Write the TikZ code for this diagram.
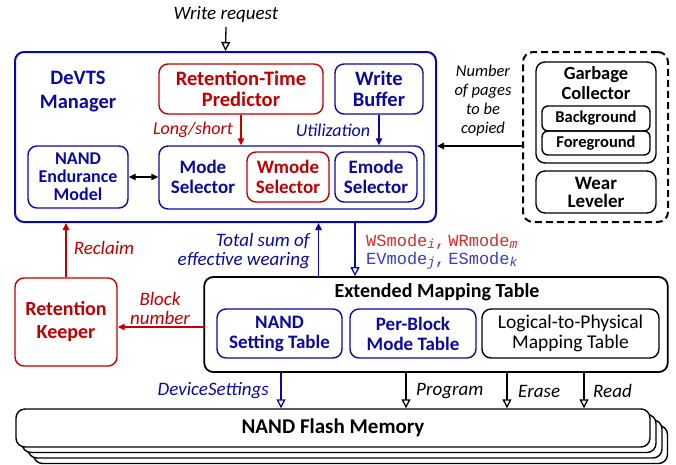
\documentclass[tikz,border=0pt]{standalone}
\usepackage{fontspec}
\setmainfont{Carlito}
\newfontfamily\monof{Liberation Mono}
\usetikzlibrary{arrows.meta}
\definecolor{nblue}{RGB}{10,10,160}
\definecolor{nred}{RGB}{192,0,0}
\definecolor{mred}{RGB}{215,45,45}
\definecolor{mblue}{RGB}{60,60,200}
\newcommand{\subi}[1]{\raisebox{-2pt}{\fontsize{13}{13}\selectfont\itshape #1}}
\begin{document}
\begin{tikzpicture}[x=1pt,y=-1pt,
  box/.style={draw, rounded corners=9pt, line width=1.4pt, align=center, inner sep=0pt,
    font=\fontsize{19}{20}\selectfont\bfseries},
  bbox/.style={box, draw=nblue, text=nblue},
  rbox/.style={box, draw=nred, text=nred},
  kbox/.style={box, draw=black, text=black},
  big/.style={font=\fontsize{20.5}{20.5}\selectfont\bfseries},
  txt/.style={align=center, inner sep=0pt, font=\fontsize{19}{20}\selectfont\bfseries},
  lab/.style={align=center, inner sep=0pt, font=\fontsize{19}{19}\selectfont\itshape},
  fa/.style={-{Triangle[length=7pt,width=6.5pt]}, line width=1.3pt},
  oa/.style={-{Triangle[open,length=9pt,width=9pt]}, line width=1.3pt},
  da/.style={{Triangle[length=7pt,width=6.5pt]}-{Triangle[length=7pt,width=6.5pt]}, line width=1.3pt}
]
\useasboundingbox (0,0) rectangle (676,464);

% DeVTS manager
\node[bbox, line width=2pt, minimum width=421pt, minimum height=170pt] (dev) at (225.5,137) {};
\node[txt, text=nblue, font=\fontsize{20.5}{24}\selectfont\bfseries] (devt) at (78,92) {DeVTS\\Manager};
\node[rbox, big, minimum width=164pt, minimum height=50pt] (rtp) at (241,89) {Retention-Time\\Predictor};
\node[bbox, big, minimum width=88pt, minimum height=50pt] (wb) at (379,89) {Write\\Buffer};
\node[bbox, minimum width=100pt, minimum height=62pt, font=\fontsize{18}{18}\selectfont\bfseries] (nem) at (78,177) {NAND\\Endurance\\Model};
\node[bbox, minimum width=265pt, minimum height=63pt] (ms) at (291.5,177.5) {};
\node[txt, text=nblue] (mst) at (203,177) {Mode\\Selector};
\node[rbox, minimum width=82pt, minimum height=50pt] (wms) at (288,177) {Wmode\\Selector};
\node[bbox, minimum width=82pt, minimum height=50pt] (ems) at (376,177) {Emode\\Selector};

% write request
\node[lab] (wr) at (226,14) {Write request};
\coordinate (wrs) at (226,27);
\draw[oa] (wrs) -- (dev.north);

% internal arrows
\draw[fa, nred] (rtp.south) -- (rtp.south |- ms.north);
\draw[fa, nblue] (wb.south) -- (wb.south |- ms.north);
\node[lab, text=nred, font=\fontsize{18}{18}\selectfont\itshape] (ls) at (193,130) {Long/short};
\node[lab, text=nblue, font=\fontsize{18}{18}\selectfont\itshape] (ut) at (333,130) {Utilization};
\draw[da] (nem.east) -- (nem.east -| ms.west);

% dashed group
\node[draw, dash pattern=on 7pt off 4pt, line width=2pt, rounded corners=10pt,
  minimum width=145pt, minimum height=170pt] (dash) at (595.5,137) {};
\node[kbox, minimum width=120pt, minimum height=101pt] (gc) at (596,112.5) {};
\node[txt, font=\fontsize{18.5}{20}\selectfont\bfseries] (gct) at (596,83) {Garbage\\Collector};
\node[kbox, rounded corners=6pt, minimum width=108pt, minimum height=25pt,
  font=\fontsize{16.5}{18}\selectfont\bfseries] (bg) at (596,118.5) {Background};
\node[kbox, rounded corners=6pt, minimum width=108pt, minimum height=24pt,
  font=\fontsize{16.5}{18}\selectfont\bfseries] (fg) at (596,143) {Foreground};
\node[kbox, minimum width=120pt, minimum height=42pt, font=\fontsize{19}{18}\selectfont\bfseries] (wl) at (596,192) {Wear\\Leveler};
\coordinate (dashl) at (523,146);
\draw[fa] (dashl) -- (dashl -| dev.east);
\node[lab, font=\fontsize{16.5}{19}\selectfont\itshape] (np) at (483,101) {Number\\of pages\\to be\\copied};

% retention keeper
\node[rbox, minimum width=102pt, minimum height=88pt, font=\fontsize{20}{23}\selectfont\bfseries] (rk) at (66,322) {Retention\\Keeper};
\draw[fa, nred] (rk.north) -- (rk.north |- dev.south);
\node[lab, text=nred] (rc) at (104,248) {Reclaim};

% extended mapping table
\node[kbox, line width=1.8pt, minimum width=463.5pt, minimum height=95pt] (emt) at (436,324.5) {};
\node[txt, font=\fontsize{20}{20}\selectfont\bfseries] (emtt) at (437,292) {Extended Mapping Table};
\node[bbox, minimum width=125pt, minimum height=49pt] (nst) at (279.5,333.5) {NAND\\Setting Table};
\node[bbox, minimum width=126pt, minimum height=49pt] (pbm) at (413,333.5) {Per-Block\\Mode Table};
\node[kbox, minimum width=177pt, minimum height=49pt, font=\fontsize{19.5}{20}\selectfont] (l2p) at (570.5,333.5) {Logical-to-Physical\\Mapping Table};

\coordinate (bnA) at (204.5,327);
\draw[fa, nred] (bnA) -- (bnA -| rk.east);
\node[lab, text=nred] (bn) at (160,308) {Block\\number};

\coordinate (tsA) at (318.5,277);
\draw[fa, nblue] (tsA) -- (tsA |- dev.south);
\node[lab, text=nblue, anchor=east, align=right] (ts) at (310,251.5) {Total sum of\\effective wearing};

\coordinate (mdA) at (355,222);
\draw[oa, nblue] (mdA) -- (mdA |- emt.north);
\node[anchor=west, inner sep=0pt, text=mred, font=\fontsize{17}{17}\selectfont\monof] (m1) at (366,242) {WSmode\subi{i},\hspace{3pt}WRmode\subi{m}};
\node[anchor=west, inner sep=0pt, text=mblue, font=\fontsize{17}{17}\selectfont\monof] (m2) at (366,261) {EVmode\subi{j},\hspace{3pt}ESmode\subi{k}};

% NAND flash memory stack
\node[kbox, fill=white, minimum width=634pt, minimum height=38pt] (nfm3) at (350.5,444.5) {};
\node[kbox, fill=white, minimum width=634pt, minimum height=38pt] (nfm2) at (345,439) {};
\node[kbox, fill=white, minimum width=634pt, minimum height=38pt] (nfm1) at (339,433.5) {};
\node[kbox, fill=white, minimum width=634pt, minimum height=38pt, font=\fontsize{21}{21}\selectfont\bfseries] (nfm) at (333,428) {NAND Flash Memory};

\coordinate (dsA) at (281,372);
\coordinate (prA) at (406,372);
\coordinate (erA) at (507,372);
\coordinate (rdA) at (584,372);
\draw[oa, nblue] (dsA) -- (dsA |- nfm.north);
\draw[oa] (prA) -- (prA |- nfm.north);
\draw[oa] (erA) -- (erA |- nfm.north);
\draw[oa] (rdA) -- (rdA |- nfm.north);
\node[lab, text=nblue, anchor=east] (ds) at (269,391) {DeviceSettings};
\node[lab, anchor=west] (pr) at (416,391) {Program};
\node[lab, anchor=west] (er) at (518,391) {Erase};
\node[lab, anchor=west] (rd) at (593,391) {Read};
\end{tikzpicture}
\end{document}
